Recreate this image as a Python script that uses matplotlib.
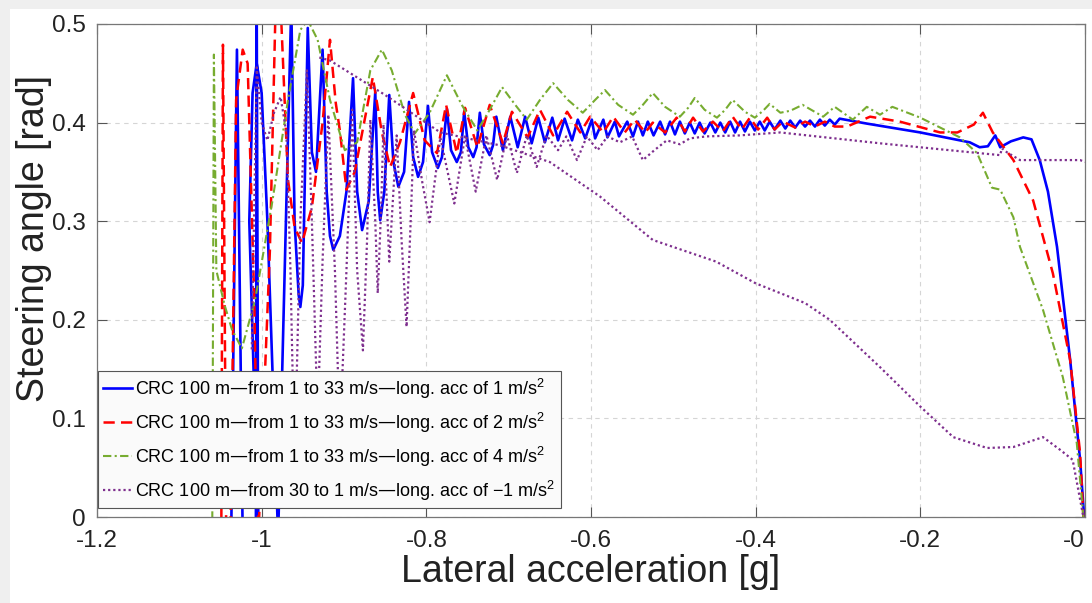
import numpy as np
import matplotlib
matplotlib.use('Agg')
import matplotlib.pyplot as plt
from matplotlib.patches import Rectangle

plt.rcParams['font.family'] = ['Liberation Sans', 'DejaVu Sans']

# CRC 100 m, 1 -> 33 m/s, long. acc 1 m/s^2
blue_x = [-1.037, -1.030, -1.023, -1.007, -1.006, -1.004, -1.015, -1.011, -1.006, -1.000,
          -0.993, -0.980, -0.964, -0.960, -0.955, -0.953, -0.950, -0.944, -0.939, -0.934,
          -0.926, -0.921, -0.917, -0.913, -0.905, -0.897, -0.889, -0.884, -0.878, -0.870,
          -0.862, -0.859, -0.856, -0.851, -0.845, -0.840, -0.834, -0.827, -0.821, -0.816,
          -0.810, -0.804, -0.798, -0.793, -0.786, -0.781, -0.775, -0.770, -0.763, -0.758,
          -0.754, -0.749, -0.743, -0.739, -0.735, -0.730, -0.723, -0.719, -0.715, -0.707,
          -0.698, -0.689, -0.680, -0.672, -0.664, -0.656, -0.647, -0.640, -0.632, -0.623,
          -0.616, -0.607, -0.599, -0.595, -0.585, -0.580, -0.571, -0.566, -0.556, -0.549,
          -0.543, -0.537, -0.531, -0.524, -0.516, -0.510, -0.504, -0.498, -0.492, -0.486,
          -0.480, -0.474, -0.468, -0.462, -0.455, -0.449, -0.443, -0.437, -0.431, -0.425,
          -0.419, -0.413, -0.407, -0.401, -0.395, -0.389, -0.383, -0.377, -0.370, -0.364,
          -0.358, -0.352, -0.346, -0.340, -0.334, -0.328, -0.322, -0.316, -0.310, -0.304,
          -0.298, -0.265, -0.200, -0.140, -0.128, -0.118, -0.109, -0.103, -0.090, -0.075,
          -0.065, -0.055, -0.045, -0.034, -0.018, -0.006, -0.001]
blue_y = [-0.02, 0.474, -0.02, -0.02, 0.52, -0.02, 0.30, 0.43, 0.460, 0.43,
          0.30, -0.02, 0.52, 0.30, 0.225, 0.213, 0.235, 0.496, 0.37, 0.35,
          0.474, 0.33, 0.285, 0.271, 0.285, 0.33, 0.445, 0.33, 0.291, 0.32,
          0.431, 0.33, 0.301, 0.33, 0.428, 0.36, 0.335, 0.35, 0.421, 0.365,
          0.345, 0.36, 0.417, 0.37, 0.354, 0.365, 0.414, 0.372, 0.360, 0.37,
          0.411, 0.375, 0.365, 0.375, 0.410, 0.378, 0.367, 0.377, 0.406, 0.372,
          0.406, 0.375, 0.406, 0.379, 0.405, 0.380, 0.405, 0.382, 0.404, 0.382,
          0.403, 0.384, 0.403, 0.384, 0.403, 0.385, 0.401, 0.386, 0.401, 0.386,
          0.401, 0.387, 0.401, 0.387, 0.401, 0.388, 0.401, 0.388, 0.401, 0.389,
          0.400, 0.389, 0.400, 0.389, 0.400, 0.390, 0.400, 0.390, 0.401, 0.390,
          0.401, 0.391, 0.401, 0.392, 0.401, 0.392, 0.401, 0.393, 0.402, 0.394,
          0.402, 0.395, 0.402, 0.396, 0.402, 0.396, 0.403, 0.397, 0.403, 0.398,
          0.404, 0.399, 0.390, 0.380, 0.375, 0.376, 0.387, 0.375, 0.381, 0.385,
          0.383, 0.362, 0.330, 0.274, 0.159, 0.058, 0.0]

# long. acc 2 m/s^2
red_x = [-1.049, -1.047, -1.043, -1.038, -1.031, -1.023, -1.017, -1.009, -1.004, -0.990,
         -0.983, -0.977, -0.968, -0.960, -0.951, -0.939, -0.926, -0.917, -0.910, -0.905,
         -0.897, -0.887, -0.865, -0.854, -0.844, -0.832, -0.816, -0.802, -0.787, -0.776,
         -0.763, -0.753, -0.738, -0.723, -0.707, -0.696, -0.677, -0.662, -0.646, -0.629,
         -0.613, -0.601, -0.585, -0.573, -0.559, -0.547, -0.534, -0.525, -0.510, -0.496,
         -0.486, -0.476, -0.464, -0.452, -0.440, -0.428, -0.417, -0.407, -0.397, -0.386,
         -0.377, -0.367, -0.352, -0.340, -0.328, -0.316, -0.304, -0.289, -0.261, -0.225,
         -0.176, -0.155, -0.135, -0.124, -0.112, -0.087, -0.063, -0.039, -0.018, -0.006,
         -0.002]
red_y = [-0.02, 0.479, -0.02, -0.02, 0.423, 0.474, 0.460, 0.22, -0.02, 0.27,
         0.52, 0.52, 0.342, 0.294, 0.278, 0.314, 0.40, 0.484, 0.42, 0.392,
         0.332, 0.35, 0.446, 0.39, 0.355, 0.38, 0.430, 0.382, 0.369, 0.418,
         0.369, 0.415, 0.375, 0.418, 0.379, 0.411, 0.385, 0.413, 0.387, 0.411,
         0.390, 0.406, 0.390, 0.406, 0.390, 0.403, 0.390, 0.400, 0.390, 0.405,
         0.391, 0.405, 0.391, 0.401, 0.391, 0.406, 0.393, 0.405, 0.393, 0.405,
         0.393, 0.401, 0.395, 0.401, 0.396, 0.401, 0.396, 0.396, 0.406, 0.401,
         0.390, 0.390, 0.398, 0.410, 0.390, 0.362, 0.321, 0.247, 0.159, 0.065,
         0.0]

# long. acc 4 m/s^2
green_x = [-1.060, -1.058, -1.055, -1.045, -1.036, -1.024, -1.008, -0.987, -0.968, -0.953,
           -0.944, -0.932, -0.917, -0.899, -0.884, -0.868, -0.854, -0.842, -0.826, -0.814,
           -0.796, -0.775, -0.757, -0.738, -0.723, -0.708, -0.692, -0.678, -0.662, -0.646,
           -0.628, -0.610, -0.595, -0.583, -0.567, -0.549, -0.537, -0.525, -0.510, -0.492,
           -0.482, -0.474, -0.462, -0.447, -0.437, -0.428, -0.413, -0.401, -0.391, -0.383,
           -0.370, -0.358, -0.343, -0.318, -0.304, -0.282, -0.265, -0.249, -0.234, -0.200,
           -0.152, -0.131, -0.113, -0.103, -0.087, -0.079, -0.051, -0.027, -0.010, -0.002]
green_y = [-0.02, 0.469, 0.25, 0.215, 0.19, 0.171, 0.22, 0.32, 0.423, 0.494,
           0.504, 0.484, 0.423, 0.372, 0.38, 0.453, 0.474, 0.453, 0.408, 0.389,
           0.41, 0.448, 0.418, 0.392, 0.413, 0.436, 0.418, 0.403, 0.423, 0.440,
           0.423, 0.410, 0.423, 0.433, 0.418, 0.408, 0.418, 0.430, 0.416, 0.406,
           0.415, 0.425, 0.413, 0.405, 0.413, 0.423, 0.411, 0.405, 0.412, 0.419,
           0.410, 0.412, 0.418, 0.406, 0.416, 0.403, 0.416, 0.408, 0.416, 0.405,
           0.385, 0.369, 0.334, 0.332, 0.304, 0.274, 0.21, 0.142, 0.075, 0.0]

# from 30 to 1 m/s, long. acc -1 m/s^2 (two branches)
purple_a_x = [-0.930, -0.917, -0.850, -0.783, -0.711, -0.650, -0.589, -0.525, -0.448, -0.400,
              -0.370, -0.340, -0.310, -0.249, -0.200, -0.160, -0.119, -0.087, -0.051, -0.030,
              -0.015, -0.002]
purple_a_y = [0.466, 0.463, 0.428, 0.390, 0.377, 0.360, 0.325, 0.281, 0.259, 0.237,
              0.227, 0.217, 0.200, 0.152, 0.112, 0.081, 0.070, 0.071, 0.081, 0.068,
              0.058, 0.0]

purple_b_x = [-1.012, -1.006, -1.000, -0.993, -0.985, -0.977, -0.970, -0.965, -0.960, -0.953,
              -0.945, -0.939, -0.932, -0.926, -0.919, -0.911, -0.905, -0.897, -0.890, -0.884,
              -0.877, -0.872, -0.868, -0.862, -0.859, -0.855, -0.852, -0.848, -0.845, -0.840,
              -0.836, -0.830, -0.824, -0.819, -0.815, -0.805, -0.796, -0.783, -0.766, -0.753,
              -0.740, -0.727, -0.714, -0.702, -0.690, -0.678, -0.666, -0.654, -0.640, -0.630,
              -0.617, -0.605, -0.592, -0.580, -0.565, -0.550, -0.537, -0.523, -0.508, -0.492,
              -0.480, -0.460, -0.420, -0.370, -0.249, -0.128, -0.103, -0.101, -0.095, -0.079,
              -0.006, 0.0]
purple_b_y = [0.17, 0.456, 0.40, 0.382, 0.41, 0.426, 0.39, 0.25, 0.05, 0.30,
              0.453, 0.30, 0.10, 0.26, 0.408, 0.25, 0.08, 0.25, 0.413, 0.25,
              0.169, 0.28, 0.403, 0.30, 0.227, 0.31, 0.398, 0.32, 0.259, 0.33,
              0.387, 0.28, 0.193, 0.30, 0.392, 0.34, 0.299, 0.385, 0.318, 0.386,
              0.330, 0.387, 0.342, 0.387, 0.349, 0.387, 0.355, 0.387, 0.372, 0.386,
              0.362, 0.386, 0.372, 0.386, 0.380, 0.386, 0.362, 0.372, 0.382, 0.378,
              0.384, 0.386, 0.387, 0.390, 0.379, 0.369, 0.367, 0.374, 0.370, 0.362,
              0.362, 0.360]

labels = ['CRC 100 m\u2014from 1 to 33 m/s\u2014long. acc of 1 m/s$^{\\mathregular{2}}$',
          'CRC 100 m\u2014from 1 to 33 m/s\u2014long. acc of 2 m/s$^{\\mathregular{2}}$',
          'CRC 100 m\u2014from 1 to 33 m/s\u2014long. acc of 4 m/s$^{\\mathregular{2}}$',
          'CRC 100 m\u2014from 30 to 1 m/s\u2014long. acc of \u22121 m/s$^{\\mathregular{2}}$']

fig = plt.figure(figsize=(10.92, 6.03), dpi=100)
fig.patches.append(Rectangle((0, 0), 10 / 1092, 1, transform=fig.transFigure,
                             facecolor='#efefef', edgecolor='none', zorder=0))
fig.patches.append(Rectangle((0, 1 - 9 / 603), 1, 9 / 603, transform=fig.transFigure,
                             facecolor='#efefef', edgecolor='none', zorder=0))
ax = fig.add_axes([0.0888, 0.1426, 0.9048, 0.8176])

ax.plot(blue_x, blue_y, color='#0000ff', lw=1.9, label=labels[0])
ax.plot(red_x, red_y, color='#ff0000', lw=1.8, linestyle=(0, (4.5, 2.5)), label=labels[1])
ax.plot(green_x, green_y, color='#77ac30', lw=1.5, linestyle=(0, (4, 1.6, 1, 1.6)), label=labels[2])
ax.plot(purple_a_x, purple_a_y, color='#7e2f8e', lw=1.6, linestyle=(0, (1, 1.3)), label=labels[3])
ax.plot(purple_b_x, purple_b_y, color='#7e2f8e', lw=1.6, linestyle=(0, (1, 1.3)))

ax.set_xlim(-1.2, 0)
ax.set_ylim(0, 0.5)
ax.set_xticks(np.arange(-1.2, 0.01, 0.2))
ax.set_yticks(np.arange(0, 0.51, 0.1))
ax.xaxis.set_major_formatter(lambda v, p: '%g' % round(v, 2))
ax.yaxis.set_major_formatter(lambda v, p: '%g' % round(v, 2))
ax.tick_params(direction='in', top=True, right=True, length=7, width=0.8,
               colors='#555555', labelcolor='#222222', labelsize=17.5)
ax.tick_params(axis='x', pad=9)
ax.tick_params(axis='y', pad=8)
# last x tick label sits at the figure edge
ax.xaxis.get_major_ticks()[-1].label1.set_horizontalalignment('right')
for s in ax.spines.values():
    s.set_color('#777777')
    s.set_linewidth(0.9)
ax.grid(True, linestyle=(0, (4, 4)), color='#d5d5d5', linewidth=0.8)
ax.set_axisbelow(True)

ax.set_xlabel('Lateral acceleration [g]', fontsize=27, color='#222222', labelpad=2)
ax.set_ylabel('Steering angle [rad]', fontsize=27, color='#222222')
ax.yaxis.set_label_coords(-0.046, 0.565)

leg = ax.legend(loc='lower left', bbox_to_anchor=(0.001, 0.018), borderaxespad=0,
                fontsize=13, handlelength=1.6, handletextpad=0.15, labelspacing=0.55,
                fancybox=False, framealpha=1, facecolor='#fafafa', edgecolor='#555555',
                borderpad=0.3)
leg.get_frame().set_linewidth(0.8)

plt.savefig('out.png', dpi=100)
